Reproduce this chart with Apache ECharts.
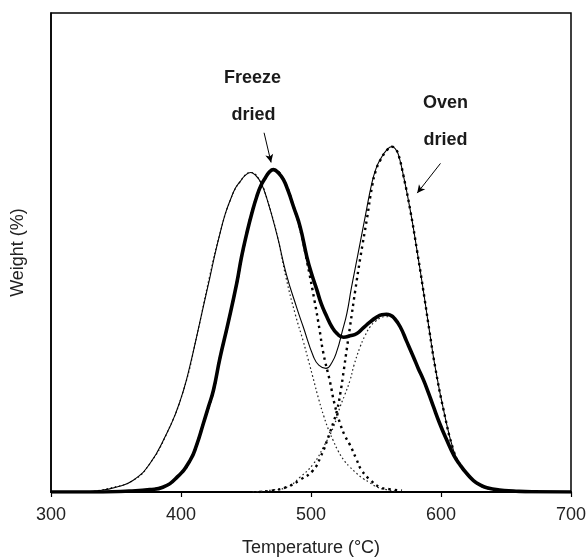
<!DOCTYPE html>
<html>
<head>
<meta charset="utf-8">
<script src="https://cdn.jsdelivr.net/npm/echarts@6/dist/echarts.min.js"></script>
<style>html,body{margin:0;padding:0;background:#fff}#c{width:588px;height:557px}</style>
</head>
<body>
<div id="c"></div>
<script>
// Temperature ticks
var xTicks = [300, 400, 500, 600, 700];

// Oven dried (thin solid)
var ovenT = [300,320,337,350,363,376,389,396,402,407,412,417,422,426,430,434,438,442,445.5,449,453.7,457,461,466,474,481,489,494,502,506,511.5,516,520,524,527.6,531,535.3,538.5,541.7,546.8,550,553.2,558,562.2,565,567.3,571.2,576.3,581.5,587.5,591,595.5,602,609.6,615,620,630,643,660,700];
var ovenW = [0,0,0.3,1.0,2.4,5.9,12.2,16.5,21.3,26.5,32.4,38.5,44.5,49.5,54,58,61,63.5,64.8,66,66.7,66.2,64.8,61.3,53.5,45.5,38.5,34.5,28.2,26.5,25.8,27,29.5,33.5,37.3,42.5,48.5,53,57.5,64.5,67.5,69.4,71.3,72.1,71.6,70.4,65.9,58.9,50.5,40.1,33.8,26.1,17.1,8.7,5.5,3.8,1.4,0.5,0.1,0];

// Freeze dried (thick solid)
var freezeT = [300,340,360,376,386,397,407,412,417.2,421,425,430,436,442.9,446.5,450.6,454.5,458.3,461.5,464.7,468,471.1,475,478.8,482.5,486.5,491.6,496.8,500.5,504.5,508,512.2,516,519.9,525,530,535.3,540,545.5,550,554.5,558,561,564,568.6,573.5,578.8,582.5,586.5,590.5,594.2,599,604.5,610,614.8,620,625,630,635.3,645,655.8,670,700];
var freezeW = [0,0,0.2,0.5,1.0,3.1,6.6,9.8,14.3,17.7,21.3,28,35,43.6,49,54,58.2,61.7,64,65.5,66.8,67.3,66.6,65.2,62.8,59.6,55.4,49.1,45.5,42.2,39.2,36.6,34.5,33.1,32.3,32.6,33.1,34.2,35.5,36.4,37.0,37.1,36.9,36.3,34.5,31.5,28.2,25.8,23.4,20.6,17.8,14.3,10.8,7.6,5.6,3.8,2.4,1.5,0.9,0.4,0.2,0.05,0];

// Oven dried, first component (fine dots)
var ovenC1T = [330,345,363,376,389,402,412,422,430,438,445.5,453.7,461,466,474,481,488,494,498,502,506,510,513.5,517,521,526,530,535,540,545,551,558,565];
var ovenC1W = [0,0.8,2.4,5.9,12.2,21.3,32.4,45,54,61,64.8,66.7,64.8,61.3,53.5,44.5,37,31.5,27.5,23.4,19.3,15.7,13,10.8,8.5,6.4,5.2,3.9,2.8,2.0,1.0,0.5,0.2];

// Oven dried, second component (bold dots)
var ovenC2T = [460,470,481,492,501.5,507.5,514,517.3,520,522.5,525,527.6,530,534,538,543,547,550,553.2,558,562.2,565,567.3,571.2,576.3,581.5,587.5,591,595.5,602,609.6,615,620,630,643];
var ovenC2W = [0,0.3,1.0,2.6,4.5,7.4,12,14.6,17,20.5,25,30,34.5,42,49,57,63.8,67.2,69.2,71.2,72.1,71.6,70.4,65.9,58.9,50.5,40.1,33.8,26.1,17.1,8.7,5.5,3.8,1.4,0.5];

// Freeze dried, first component (bold dots)
var freezeC1T = [375,386,397,407,417.2,425,430,436,442.9,450.6,458.3,464.7,471.1,478.8,486.5,491.6,497,503,506.5,509.5,514.7,518,522.4,526,530,535,539,546,553,560,570];
var freezeC1W = [0.5,1.0,3.1,6.6,14.3,21.3,28,35,43.6,54,61.7,65.5,67.3,65.2,59.6,55,48,39.5,34,29,22.9,18.5,14.3,11.8,9.8,6.8,4.5,2.4,1.0,0.6,0.3];

// Freeze dried, second component (fine dots)
var freezeC2T = [455,470,481.4,491.6,501.9,509.6,517.3,522.4,526,530.1,533,537.8,541.5,545.5,549.5,553.2,557,560,564,568.6,573.5,578.8,582.5,586.5,590.5,594.2,599,604.5,610,614.8,620,625,630,635.3,645];
var freezeC2W = [0,0.4,1.0,3.1,5.9,9.4,13.6,17.8,20.3,23.4,26.4,30.3,32.6,34.5,35.6,36.3,36.6,36.6,36.2,34.5,31.5,28.2,25.8,23.4,20.6,17.8,14.3,10.8,7.6,5.6,3.8,2.4,1.5,0.9,0.4];

function pairs(t, w) { return t.map(function (v, i) { return [v, w[i]]; }); }

var FONT = 'Liberation Sans, Arial, Helvetica, sans-serif';
var chart = echarts.init(document.getElementById('c'), null, { renderer: 'canvas' });

function dotted(name, t, w, width, dash, color) {
  return {
    name: name, type: 'line', data: pairs(t, w), smooth: 0.5, symbol: 'none',
    lineStyle: { color: color, width: width, type: dash }, silent: true, z: 2
  };
}

chart.setOption({
  animation: false,
  backgroundColor: '#fff',
  grid: { left: 51, right: 17, top: 13, bottom: 65, outerBoundsMode: 'none', containLabel: false,
    show: true, borderColor: '#000', borderWidth: 1.5, backgroundColor: 'transparent' },
  xAxis: {
    type: 'value', min: 300, max: 700, interval: 100,
    name: 'Temperature (°C)', nameLocation: 'middle', nameGap: 47,
    nameTextStyle: { fontFamily: FONT, fontSize: 18, color: '#222' },
    axisLine: { show: true, lineStyle: { color: '#000', width: 2.2 } },
    axisTick: { show: true, inside: false, length: 5, lineStyle: { color: '#000', width: 1.2 } },
    axisLabel: { fontFamily: FONT, fontSize: 18, color: '#222', margin: 14 },
    splitLine: { show: false }
  },
  yAxis: {
    type: 'value', min: 0, max: 100,
    name: 'Weight (%)', nameLocation: 'middle', nameGap: 24,
    nameTextStyle: { fontFamily: FONT, fontSize: 18, color: '#222' },
    axisLine: { show: true, lineStyle: { color: '#000', width: 1.5 } },
    axisTick: { show: false }, axisLabel: { show: false }, splitLine: { show: false }
  },
  series: [
    dotted('Oven dried component 1', ovenC1T, ovenC1W, 1.2, [1.6, 2.6], '#222'),
    dotted('Freeze dried component 2', freezeC2T, freezeC2W, 1.2, [1.6, 2.6], '#222'),
    dotted('Oven dried component 2', ovenC2T, ovenC2W, 2.4, [2.4, 4], '#000'),
    dotted('Freeze dried component 1', freezeC1T, freezeC1W, 2.4, [2.4, 4], '#000'),
    {
      name: 'Oven dried', type: 'line', data: pairs(ovenT, ovenW), smooth: 0.5, symbol: 'none',
      lineStyle: { color: '#000', width: 1.1 }, z: 3,
      markLine: {
        silent: true, symbol: ['none', 'arrow'], symbolSize: [6, 8],
        lineStyle: { color: '#000', width: 1, type: 'solid' }, label: { show: false },
        data: [[{ coord: [599.6, 68.6] }, { coord: [581.7, 62.4] }]]
      }
    },
    {
      name: 'Freeze dried', type: 'line', data: pairs(freezeT, freezeW), smooth: 0.5, symbol: 'none',
      lineStyle: { color: '#000', width: 3.6 }, z: 4,
      markLine: {
        silent: true, symbol: ['none', 'arrow'], symbolSize: [6, 8],
        lineStyle: { color: '#000', width: 1, type: 'solid' }, label: { show: false },
        data: [[{ coord: [463.9, 75.0] }, { coord: [469.3, 68.8] }]]
      }
    }
  ],
  graphic: [
    { type: 'text', x: 252.5, y: 78.5, style: { text: 'Freeze', font: 'bold 18px ' + FONT, fill: '#1a1a1a', textAlign: 'center', textVerticalAlign: 'middle' } },
    { type: 'text', x: 253.5, y: 115, style: { text: 'dried', font: 'bold 18px ' + FONT, fill: '#1a1a1a', textAlign: 'center', textVerticalAlign: 'middle' } },
    { type: 'text', x: 445.5, y: 103.5, style: { text: 'Oven', font: 'bold 18px ' + FONT, fill: '#1a1a1a', textAlign: 'center', textVerticalAlign: 'middle' } },
    { type: 'text', x: 445.5, y: 140, style: { text: 'dried', font: 'bold 18px ' + FONT, fill: '#1a1a1a', textAlign: 'center', textVerticalAlign: 'middle' } }
  ]
});
</script>
</body>
</html>
